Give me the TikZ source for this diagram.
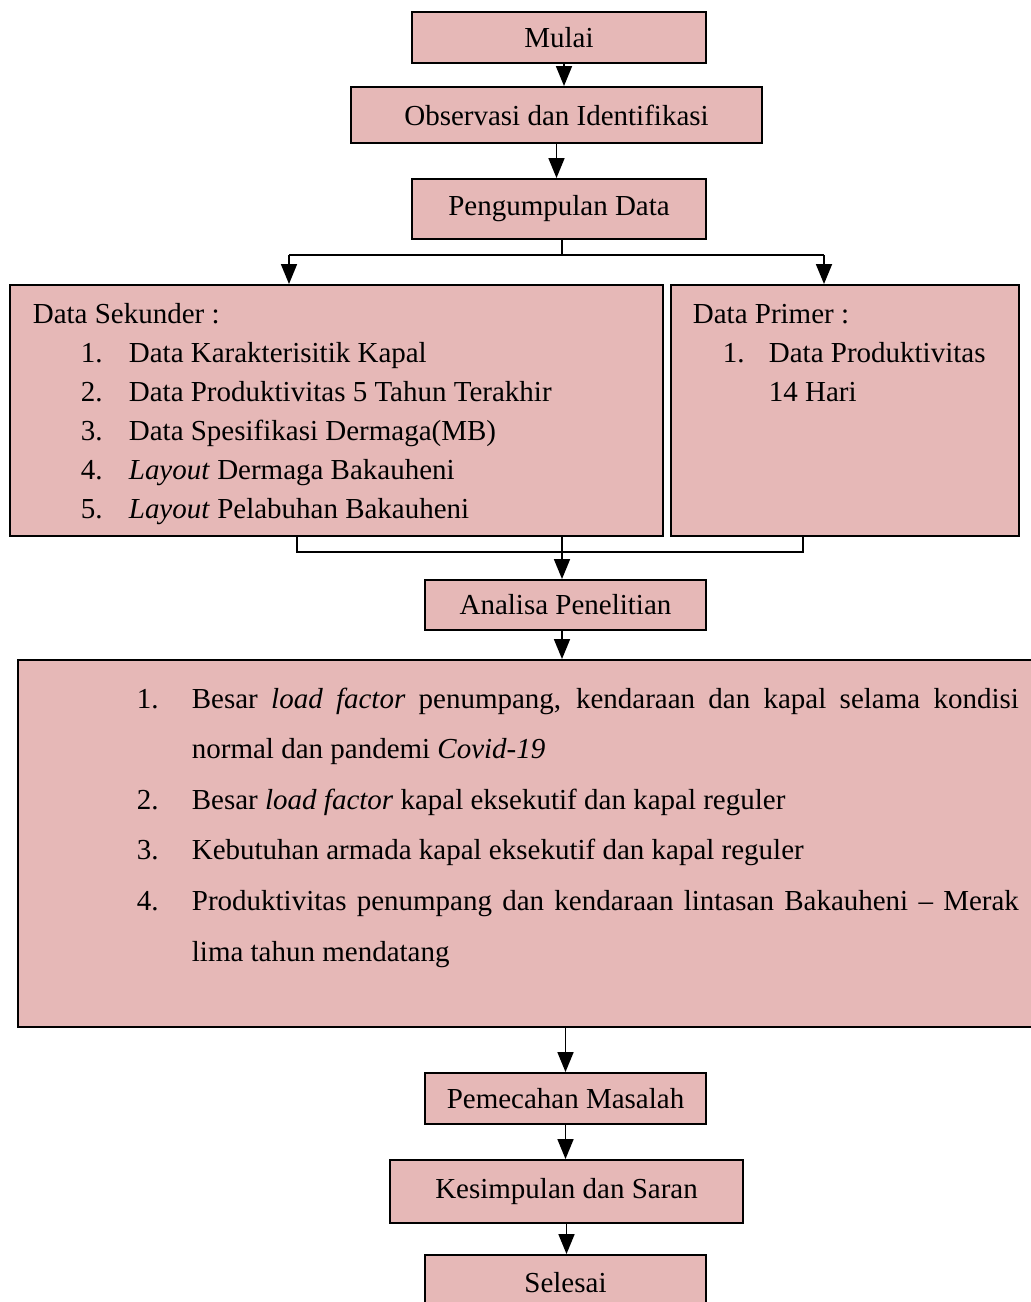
\documentclass[tikz,border=0pt]{standalone}
\usepackage{fontspec}
\setmainfont{Liberation Serif}
\usetikzlibrary{arrows.meta}
\definecolor{boxpink}{HTML}{E6B8B7}
\tikzset{
  box/.style={draw, line width=1.1pt, fill=boxpink, inner sep=0pt},
  arr/.style={-{Triangle[length=0.4cm,width=0.32cm]}},
  txt/.style={anchor=base west, inner sep=0pt},
}

\begin{document}
\begin{tikzpicture}[font=\fontsize{16.5}{20}\selectfont, line width=1pt]
\useasboundingbox (0,0) rectangle (20.6,-26.04);

% main chain of boxes
\node[box, minimum width=5.88cm, minimum height=1.02cm] (mulai) at (11.18,-0.75) {Mulai};
\node[box, minimum width=8.22cm, minimum height=1.12cm] (obs) at (11.13,-2.3) {Observasi dan Identifikasi};
\node[box, minimum width=5.88cm, minimum height=1.2cm] (kumpul) at (11.18,-4.18) {Pengumpulan Data};
\node[box, minimum width=13.06cm, minimum height=5.02cm] (sekunder) at (6.73,-8.21) {};
\node[box, minimum width=6.96cm, minimum height=5.02cm] (primer) at (16.9,-8.21) {};
\node[box, minimum width=5.62cm, minimum height=1.0cm] (analisa) at (11.31,-12.1) {Analisa Penelitian};
\node[box, minimum width=20.44cm, minimum height=7.34cm] (hasil) at (10.58,-16.87) {};
\node[box, minimum width=5.62cm, minimum height=1.02cm] (pecah) at (11.31,-21.97) {Pemecahan Masalah};
\node[box, minimum width=7.06cm, minimum height=1.26cm] (simpul) at (11.33,-23.83) {Kesimpulan dan Saran};
\node[box, minimum width=5.62cm, minimum height=1.1cm] (selesai) at (11.31,-25.65) {Selesai};

% data sekunder
\node[txt] (sekjudul) at (0.64,-6.46) {Data Sekunder :};
\foreach [count=\i] \t in {Data Karakterisitik Kapal, Data Produktivitas 5 Tahun Terakhir,
    Data Spesifikasi Dermaga(MB), \textit{Layout} Dermaga Bakauheni, \textit{Layout} Pelabuhan Bakauheni}
{
  \node[txt] (sekno\i) at (1.6,{-6.46-0.78*\i}) {\i.};
  \node[txt] (sek\i) at (2.56,{-6.46-0.78*\i}) {\t};
}

% data primer
\node[txt] (prijudul) at (13.84,-6.46) {Data Primer :};
\node[txt] (prino1) at (14.44,-7.24) {1.};
\node[txt] (pri1) at (15.36,-7.24) {Data Produktivitas};
\node[txt] (pri1b) at (15.36,-8.02) {14 Hari};

% hasil analisa
\node[txt] (hasno1) at (2.72,-14.16) {1.};
\node[txt] (has1) at (3.82,-14.16) {\makebox[16.54cm][s]{Besar \textit{load factor} penumpang, kendaraan dan kapal selama kondisi}};
\node[txt] (has1b) at (3.82,-15.16) {normal dan pandemi \textit{Covid-19}};
\node[txt] (hasno2) at (2.72,-16.18) {2.};
\node[txt] (has2) at (3.82,-16.18) {Besar \textit{load factor} kapal eksekutif dan kapal reguler};
\node[txt] (hasno3) at (2.72,-17.18) {3.};
\node[txt] (has3) at (3.82,-17.18) {Kebutuhan armada kapal eksekutif dan kapal reguler};
\node[txt] (hasno4) at (2.72,-18.2) {4.};
\node[txt] (has4) at (3.82,-18.2) {\makebox[16.54cm][s]{Produktivitas penumpang dan kendaraan lintasan Bakauheni -- Merak}};
\node[txt] (has4b) at (3.82,-19.22) {lima tahun mendatang};

% connectors
\draw[arr] ([xshift=0.1cm]mulai.south) -- ([xshift=0.1cm]mulai.south |- obs.north);
\draw[arr] (obs.south) -- (obs.south |- kumpul.north);

\coordinate (bagi1) at (5.78,-5.1);
\coordinate (bagi2) at (16.48,-5.1);
\coordinate (tengah) at (11.24,-5.1);
\draw (tengah |- kumpul.south) -- (tengah);
\draw (bagi1) -- (bagi2);
\draw[arr] (bagi1) -- (bagi1 |- sekunder.north);
\draw[arr] (bagi2) -- (bagi2 |- primer.north);

\coordinate (gabung1) at (5.94,-11.04);
\coordinate (gabung2) at (16.06,-11.04);
\draw (gabung1 |- sekunder.south) -- (gabung1) -- (gabung2) -- (gabung2 |- primer.south);
\draw[arr] (tengah |- sekunder.south) -- (tengah |- analisa.north);

\draw[arr] (tengah |- analisa.south) -- (tengah |- hasil.north);
\draw[arr] (pecah.north |- hasil.south) -- (pecah.north);
\draw[arr] (pecah.south) -- (pecah.south |- simpul.north);
\draw[arr] (simpul.south) -- (simpul.south |- selesai.north);
\end{tikzpicture}
\end{document}
